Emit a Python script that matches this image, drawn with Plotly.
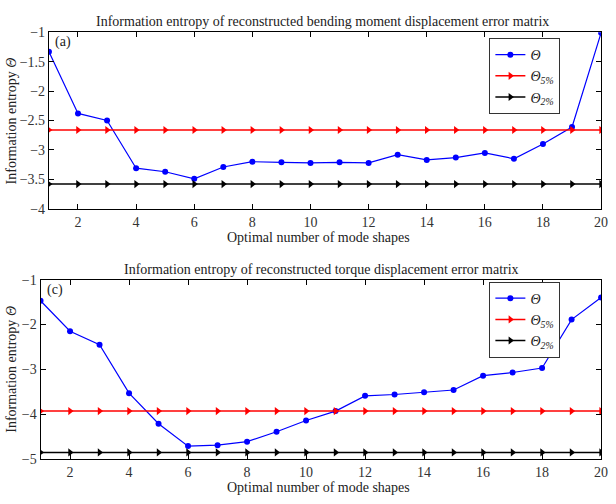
import plotly.graph_objects as go

x = list(range(1, 21))
theta_a = [-1.33, -2.38, -2.50, -3.31, -3.37, -3.49, -3.29, -3.20, -3.21, -3.22,
           -3.21, -3.22, -3.08, -3.17, -3.13, -3.05, -3.15, -2.90, -2.61, -1.01]
theta5_a = -2.66
theta2_a = -3.58

theta_c = [-1.47, -2.15, -2.45, -3.53, -4.21, -4.71, -4.69, -4.61, -4.39, -4.14,
           -3.93, -3.59, -3.56, -3.51, -3.46, -3.14, -3.07, -2.97, -1.89, -1.40]
theta5_c = -3.93
theta2_c = -4.85

title_a = "Information entropy of reconstructed bending moment displacement error matrix"
title_c = "Information entropy of reconstructed torque displacement error matrix"
xlabel = "Optimal number of mode shapes"
ylabel = "Information entropy <i>Θ</i>"
names = ["<i>Θ</i>", "<i>Θ</i><sub><i>5%</i></sub>", "<i>Θ</i><sub><i>2%</i></sub>"]

FONT = "Liberation Serif"
fig = go.Figure()

def add_panel(theta, t5, t2, xa, ya, legend):
    fig.add_trace(go.Scatter(x=x, y=theta, mode="lines+markers", name=names[0],
                             line=dict(color="#0000ff", width=1.2),
                             marker=dict(symbol="circle", size=6, color="#0000ff"),
                             xaxis=xa, yaxis=ya, legend=legend))
    fig.add_trace(go.Scatter(x=x, y=[t5] * len(x), mode="lines+markers", name=names[1],
                             line=dict(color="#ff0000", width=1.5),
                             marker=dict(symbol="triangle-right", size=7, color="#ff0000"),
                             xaxis=xa, yaxis=ya, legend=legend))
    fig.add_trace(go.Scatter(x=x, y=[t2] * len(x), mode="lines+markers", name=names[2],
                             line=dict(color="#000000", width=1.5),
                             marker=dict(symbol="triangle-right", size=7, color="#000000"),
                             xaxis=xa, yaxis=ya, legend=legend))

add_panel(theta_a, theta5_a, theta2_a, "x", "y", "legend")
add_panel(theta_c, theta5_c, theta2_c, "x2", "y2", "legend2")

axcommon = dict(showline=True, linecolor="black", linewidth=1, mirror="ticks",
                ticks="inside", ticklen=5, tickcolor="black", showgrid=False,
                zeroline=False, tickfont=dict(family=FONT, size=14, color="#333"))

W, H = 616, 504
def px(v): return v / W
def py(v): return 1 - v / H

legcommon = dict(xanchor="left", yanchor="top", bordercolor="#333", borderwidth=1,
                 bgcolor="white", font=dict(family=FONT, size=14),
                 tracegroupgap=0, itemwidth=30)

fig.update_layout(
    width=W, height=H, margin=dict(l=0, r=0, t=0, b=0),
    paper_bgcolor="white", plot_bgcolor="white",
    font=dict(family=FONT, size=14, color="#222"),
    xaxis=dict(domain=[px(49.5), px(608)], anchor="y", range=[1, 20],
               tickvals=list(range(2, 21, 2)), **axcommon),
    yaxis=dict(domain=[py(208), py(26)], anchor="x", range=[-4, -1],
               tickvals=[-4, -3.5, -3, -2.5, -2, -1.5, -1], **axcommon),
    xaxis2=dict(domain=[px(41), px(608)], anchor="y2", range=[1, 20],
                tickvals=list(range(2, 21, 2)), **axcommon),
    yaxis2=dict(domain=[py(466), py(281)], anchor="x2", range=[-5, -1],
                tickvals=[-5, -4, -3, -2, -1], **axcommon),
    legend=dict(x=px(495), y=py(32), **legcommon),
    legend2=dict(x=px(495), y=py(283), **legcommon),
    showlegend=True,
)

def note(text, xp, yp, size=14, angle=0, xanchor="center"):
    return dict(text=text, x=px(xp), y=py(yp), xref="paper", yref="paper",
                xanchor=xanchor, yanchor="middle", textangle=angle, showarrow=False,
                font=dict(family=FONT, size=size, color="#222"))

ann = [
    note(title_a, 326, 15),
    note(title_c, 325, 271),
    note(xlabel, 322, 238),
    note(xlabel, 322, 495),
    note(ylabel, 12, 117, 14, -90),
    note(ylabel, 12, 373, 14, -90),
    note("(a)", 54, 36, 14, xanchor="left"),
    note("(c)", 46, 292, 14, xanchor="left"),
]
fig.update_layout(annotations=ann)

fig.write_html("out.html")
